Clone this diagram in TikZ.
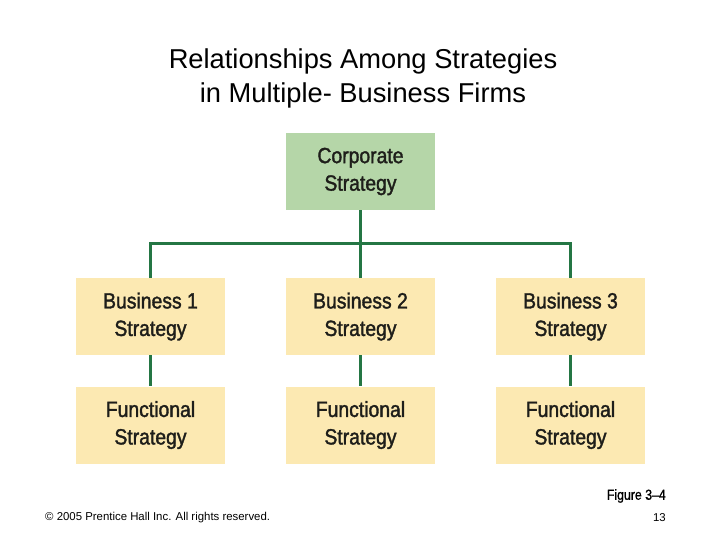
\documentclass[tikz,border=0pt]{standalone}
\usepackage{fontspec}
\setmainfont{Liberation Sans}
\newfontfamily\boxfont[FakeStretch=0.88,FakeBold=1.6]{Liberation Sans}
\newfontfamily\figfont[FakeStretch=0.85,FakeBold=1]{Liberation Sans}
\definecolor{linegreen}{RGB}{36,118,68}
\definecolor{corpfill}{RGB}{181,214,168}
\definecolor{bizfill}{RGB}{252,233,178}
\definecolor{boxtext}{RGB}{30,30,26}
\tikzset{
  stratbox/.style={minimum width=149pt, minimum height=77pt, inner sep=0pt,
    align=center, text=boxtext, font=\boxfont\fontsize{22}{27.5}\selectfont},
  corpbox/.style={stratbox, fill=corpfill},
  bizbox/.style={stratbox, fill=bizfill},
  link/.style={draw=linegreen, line width=3pt},
  titletext/.style={font=\fontsize{27.3}{34}\selectfont, align=center, text=black},
  foot/.style={font=\fontsize{11.4}{13}\selectfont, text=black, inner sep=0pt}
}
\begin{document}
\begin{tikzpicture}[x=1pt,y=-1pt]
\useasboundingbox (0,0) rectangle (720,540);
\fill[white] (0,0) rectangle (720,540);
\node[titletext] (title) at (363,78.5) {Relationships Among Strategies\\in Multiple- Business Firms};
\node[corpbox] (corp) at (360.5,171.5) {Corporate\\Strategy};
\node[bizbox] (b1) at (150.5,316.5) {Business 1\\Strategy};
\node[bizbox] (b2) at (360.5,316.5) {Business 2\\Strategy};
\node[bizbox] (b3) at (570.5,316.5) {Business 3\\Strategy};
\node[bizbox] (f1) at (150.5,425) {Functional\\Strategy};
\node[bizbox] (f2) at (360.5,425) {Functional\\Strategy};
\node[bizbox] (f3) at (570.5,425) {Functional\\Strategy};
\coordinate (hub) at (360.5,243);
\draw[link] (b1.north) |- (hub) -| (b3.north);
\draw[link] (corp.south) -- (b2.north);
\draw[link] (b1.south) -- (f1.north);
\draw[link] (b2.south) -- (f2.north);
\draw[link] (b3.south) -- (f3.north);
\node[foot, anchor=east, font=\figfont\fontsize{14.5}{16}\selectfont] (fig) at (666,496) {Figure 3–4};
\node[foot, anchor=west] (copy) at (45,518) {© 2005 Prentice Hall Inc. All rights reserved.};
\node[foot, anchor=east] (page) at (666,518) {13};
\end{tikzpicture}
\end{document}
